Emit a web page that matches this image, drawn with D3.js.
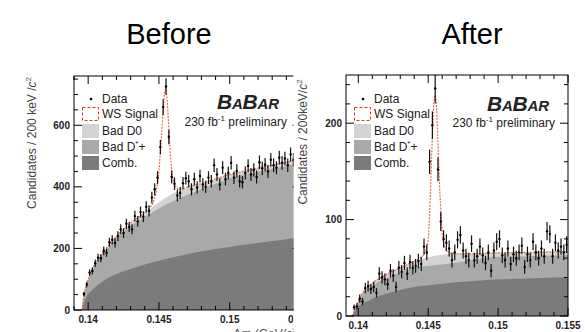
<!DOCTYPE html>
<html><head><meta charset="utf-8">
<script src="https://cdn.jsdelivr.net/npm/d3@7/dist/d3.min.js"></script>
<style>
body{margin:0;background:#fff}
svg{display:block}
text{font-family:"Liberation Sans",Arial,Helvetica,sans-serif}
</style>
</head><body>
<svg id="c" width="585" height="332"></svg>
<script>
// ---------- data ----------
const binStart = 0.1397, binWidth = 0.0002;
const titles = ["Before", "After"];
const legendLabels = ["Data", "WS Signal", "Bad D0", "Bad D*+", "Comb."];

const beforeCounts = [52,83,121,127,152,170,168,192,186,220,228,218,240,262,250,280,270,262,305,288,
  318,303,335,322,365,392,430,529,659,726,562,432,410,372,380,412,428,418,392,425,
  398,435,408,400,430,418,470,440,408,462,425,445,478,430,452,418,415,445,468,440,
  455,432,480,460,472,450,488,470,462,495,478,492,470,505,488,480,465];
const afterCounts = [9,10,18,15,29,31,28,30,24,44,40,38,33,47,42,30,50,46,55,44,
  56,50,52,57,54,72,66,160,198,236,152,98,80,76,70,58,66,79,84,68,
  62,58,75,58,62,72,63,55,66,47,68,77,80,63,58,70,54,64,60,66,
  73,51,64,58,77,66,60,70,62,88,85,62,76,68,72,66,74];

// background component nodes (stacked tops)
const bgNodes = [0.13957,0.1397,0.1399,0.1401,0.1403,0.1406,0.141,0.1415,0.142,0.143,0.144,0.145,0.146,0.147,0.148,0.149,0.150,0.151,0.152,0.153,0.154,0.155];
const beforeCombTop  = [0,25,45,58,66,78,92,106,117,133,148,160,171,181,190,198,205,212,218,224,230,236];
const beforeDstarTop = [0,45,81,107,130,152,179,206,233,272,302,330,354,374,392,410,427,439,449,459,468,478];
const beforeD0Top    = [0,47,84,111,134,157,184,212,239,280,314,350,378,396,410,425,440,451,461,471,480,490];
const afterCombTop   = [0,4,8,11,13,15,18,21,23,27,30,32,33.5,35,36,37,38,38.5,39,39.5,40,40.5];
const afterDstarTop  = [0,4,11,17,22,27,31,36,39,45,50,52,53.5,55.5,57.5,60,61.5,61.5,62,62.5,62.5,63];
const afterD0Top     = [0,5,12,19,24,29,34,39,43,50,56,61,63.5,64.5,64.5,65,65.5,65.5,66,66.5,66.5,67];

// total fit (WS signal + background)
const beforeFitX = [0.13957,0.1397,0.1399,0.1401,0.1403,0.1406,0.141,0.1415,0.142,0.143,0.144,0.1444,0.1446,0.1448,0.1450,0.1451,0.1452,0.1453,0.1454,0.14545,0.1455,0.1456,0.1457,0.1458,0.1459,0.1460,0.1462,0.1464,0.1466,0.147,0.148,0.149,0.150,0.151,0.152,0.153,0.154,0.155];
const beforeFitY = [0,48,85,112,135,158,185,213,240,282,318,335,350,385,450,510,580,650,705,718,715,670,590,510,455,425,400,393,393,399,411,426,440,451,461,471,480,490];
const afterFitX = [0.13957,0.1397,0.1399,0.1401,0.1403,0.1406,0.141,0.1415,0.142,0.143,0.144,0.1446,0.1448,0.1449,0.1450,0.1451,0.1452,0.1453,0.1454,0.1455,0.1456,0.1457,0.1458,0.1459,0.1460,0.1461,0.1462,0.1464,0.1467,0.147,0.148,0.150,0.152,0.155];
const afterFitY = [0,5,12,19,24,29,34,39,43,50,57,62,67,71,80,106,145,188,220,229,215,180,140,110,86,76,71,67,65,64.5,64.5,65.5,66,67];

const beforeXTicks = [0.14,0.145,0.15,0.155], beforeXTickLabels = ["0.14","0.145","0.15","0.155"];
const beforeYTicks = [0,200,400,600];
const afterXTicks = [0.14,0.145,0.15,0.155], afterXTickLabels = ["0.14","0.145","0.15","0.155"];
const afterYTicks = [0,100,200];

// ---------- drawing ----------
const svg = d3.select("#c");
const colD0 = "#d3d3d3", colDstar = "#a9a9a9", colComb = "#7b7b7b", colFit = "#f0603f";

function panel(cfg) {
  const x = d3.scaleLinear().domain(cfg.xDomain).range(cfg.xRange);
  const y = d3.scaleLinear().domain(cfg.yDomain).range(cfg.yRange);
  const [x0, x1] = cfg.xRange, [yb, yt] = cfg.yRange;
  const clipId = "clip" + cfg.id, outerId = "outer" + cfg.id;
  const defs = svg.append("defs");
  defs.append("clipPath").attr("id", clipId).append("rect")
    .attr("x", x0).attr("y", yt).attr("width", x1 - x0).attr("height", yb - yt);
  defs.append("clipPath").attr("id", outerId).append("rect")
    .attr("x", cfg.outer[0]).attr("y", 0).attr("width", cfg.outer[1] - cfg.outer[0]).attr("height", 340);

  const g = svg.append("g").attr("clip-path", `url(#${outerId})`);
  const plot = g.append("g").attr("clip-path", `url(#${clipId})`);

  const area = arr => d3.area().x((d, i) => x(bgNodes[i])).y0(y(0)).y1((d) => y(d)).curve(d3.curveMonotoneX)(arr);
  plot.append("path").attr("d", area(cfg.d0)).attr("fill", colD0);
  plot.append("path").attr("d", area(cfg.dstar)).attr("fill", colDstar);
  plot.append("path").attr("d", area(cfg.comb)).attr("fill", colComb);

  const fitLine = d3.line().x(d => x(d[0])).y(d => y(d[1])).curve(d3.curveMonotoneX);
  plot.append("path").attr("d", fitLine(cfg.fitX.map((v, i) => [v, cfg.fitY[i]])))
    .attr("fill", "none").attr("stroke", colFit).attr("stroke-width", 1.1).attr("stroke-dasharray", "2,1.2");

  const pts = cfg.counts.map((c, i) => ({ x: binStart + i * binWidth, v: c }));
  plot.selectAll("line.err").data(pts).enter().append("line")
    .attr("x1", d => x(d.x)).attr("x2", d => x(d.x))
    .attr("y1", d => y(d.v + Math.sqrt(d.v))).attr("y2", d => y(Math.max(0, d.v - Math.sqrt(d.v))))
    .attr("stroke", "#111").attr("stroke-width", 1.2);
  plot.selectAll("circle.pt").data(pts).enter().append("circle")
    .attr("cx", d => x(d.x)).attr("cy", d => y(d.v)).attr("r", 1.2).attr("fill", "#000");

  // frame
  g.append("rect").attr("x", x0).attr("y", yt).attr("width", x1 - x0).attr("height", yb - yt)
    .attr("fill", "none").attr("stroke", "#000").attr("stroke-width", 1);

  // ticks (inward, on all four sides)
  const tk = g.append("g").attr("stroke", "#000").attr("stroke-width", 1);
  const xMinor = d3.range(0.139, 0.1551, 0.001).filter(v => v >= cfg.xDomain[0] - 1e-9 && v <= cfg.xDomain[1] + 1e-9);
  xMinor.forEach(v => {
    const major = cfg.xTicks.some(t => Math.abs(t - v) < 1e-7);
    const L = major ? 8 : 4;
    tk.append("line").attr("x1", x(v)).attr("x2", x(v)).attr("y1", yb).attr("y2", yb - L);
    tk.append("line").attr("x1", x(v)).attr("x2", x(v)).attr("y1", yt).attr("y2", yt + L);
  });
  d3.range(0, cfg.yDomain[1] + 1e-6, cfg.yMinor).forEach(v => {
    const major = cfg.yTicks.some(t => Math.abs(t - v) < 1e-6);
    const L = major ? 8 : 4;
    tk.append("line").attr("x1", x0).attr("x2", x0 + L).attr("y1", y(v)).attr("y2", y(v));
    tk.append("line").attr("x1", x1).attr("x2", x1 - L).attr("y1", y(v)).attr("y2", y(v));
  });

  // tick labels
  cfg.xTicks.forEach((t, i) => {
    g.append("text").attr("x", x(t)).attr("y", yb + 12.5).attr("text-anchor", "middle")
      .attr("font-size", 10).attr("font-weight", "bold").attr("fill", "#222").text(cfg.xTickLabels[i]);
  });
  cfg.yTicks.forEach(t => {
    g.append("text").attr("x", x0 - 4).attr("y", y(t) + 3.5).attr("text-anchor", "end")
      .attr("font-size", 10).attr("font-weight", "bold").attr("fill", "#222").text(t);
  });

  // y axis title
  const yl = g.append("text").attr("transform", `translate(${cfg.yLabelX},${cfg.yLabelY}) rotate(-90)`)
    .attr("text-anchor", "middle").attr("font-size", 12).attr("fill", "#444");
  yl.append("tspan").text(cfg.yLabelText);
  yl.append("tspan").attr("font-style", "italic").text("c");
  yl.append("tspan").attr("font-size", 8).attr("dy", -5).text("2");

  if (cfg.xLabel) {
    const xl = g.append("text").attr("x", x1).attr("y", 338).attr("text-anchor", "end")
      .attr("font-size", 12).attr("fill", "#555");
    xl.append("tspan").text("\u0394m (GeV/");
    xl.append("tspan").attr("font-style", "italic").text("c");
    xl.append("tspan").attr("font-size", 8).attr("dy", -5).text("2");
    xl.append("tspan").attr("dy", 5).text(")");
  }

  // legend
  const lx = x0 + 8, tx = x0 + 28;
  const lg = g.append("g").attr("font-size", 12).attr("fill", "#222");
  lg.append("circle").attr("cx", tx - 11).attr("cy", 99).attr("r", 1.3).attr("fill", "#000");
  lg.append("text").attr("x", tx).attr("y", 103).text(legendLabels[0]);
  lg.append("rect").attr("x", lx + 0.5).attr("y", 107.5).attr("width", 16).attr("height", 13)
    .attr("fill", "#fff").attr("stroke", "#ee3322").attr("stroke-width", 1).attr("stroke-dasharray", "3,2");
  lg.append("text").attr("x", tx).attr("y", 118).text(legendLabels[1]);
  [[colD0, 124], [colDstar, 140], [colComb, 156]].forEach(r => {
    lg.append("rect").attr("x", lx).attr("y", r[1]).attr("width", 17).attr("height", 14).attr("fill", r[0]);
  });
  lg.append("text").attr("x", tx).attr("y", 134.5).text(legendLabels[2]);
  const ds = lg.append("text").attr("x", tx).attr("y", 150.5);
  ds.append("tspan").text("Bad D");
  ds.append("tspan").attr("font-size", 8).attr("dy", -5).text("*");
  ds.append("tspan").attr("dy", 5).text("+");
  lg.append("text").attr("x", tx).attr("y", 166.5).text(legendLabels[4]);

  // BaBar logo
  const bb = g.append("text").attr("x", cfg.logo[0]).attr("y", cfg.logo[1])
    .attr("font-family", "'Liberation Serif','Times New Roman',serif").attr("font-weight", "bold")
    .attr("font-style", "italic").attr("fill", "#222").attr("textLength", 62).attr("lengthAdjust", "spacing");
  bb.append("tspan").attr("font-size", 21).text("B");
  bb.append("tspan").attr("font-size", 15).text("A");
  bb.append("tspan").attr("font-size", 21).text("B");
  bb.append("tspan").attr("font-size", 15).text("AR");
  const lum = g.append("text").attr("x", cfg.lum[0]).attr("y", cfg.lum[1]).attr("text-anchor", "end")
    .attr("font-size", 12).attr("fill", "#222");
  lum.append("tspan").text("230 fb");
  lum.append("tspan").attr("font-size", 8).attr("dy", -5).text("-1");
  lum.append("tspan").attr("dy", 5).text(" preliminary");
}

panel({
  id: "L", xDomain: [0.139, 0.155], xRange: [74, 300.5], yDomain: [0, 760], yRange: [310, 76],
  outer: [0, 293.5], counts: beforeCounts, comb: beforeCombTop, dstar: beforeDstarTop, d0: beforeD0Top,
  fitX: beforeFitX, fitY: beforeFitY, xTicks: beforeXTicks, xTickLabels: beforeXTickLabels,
  yTicks: beforeYTicks, yMinor: 50, yLabelX: 36, yLabelY: 143, yLabelText: "Candidates / 200 keV /",
  xLabel: true, logo: [217, 109], lum: [287, 126]
});
panel({
  id: "R", xDomain: [0.13912, 0.155], xRange: [346, 568], yDomain: [0, 250], yRange: [316, 75],
  outer: [293.5, 585], counts: afterCounts, comb: afterCombTop, dstar: afterDstarTop, d0: afterD0Top,
  fitX: afterFitX, fitY: afterFitY, xTicks: afterXTicks, xTickLabels: afterXTickLabels,
  yTicks: afterYTicks, yMinor: 20, yLabelX: 307, yLabelY: 142, yLabelText: "Candidates / 200keV/",
  xLabel: false, logo: [487, 111], lum: [555, 127]
});

svg.append("text").attr("x", 169).attr("y", 44).attr("text-anchor", "middle").attr("font-size", 29)
  .attr("fill", "#000").text(titles[0]);
svg.append("text").attr("x", 472).attr("y", 44).attr("text-anchor", "middle").attr("font-size", 29)
  .attr("fill", "#000").text(titles[1]);
</script>
</body></html>
